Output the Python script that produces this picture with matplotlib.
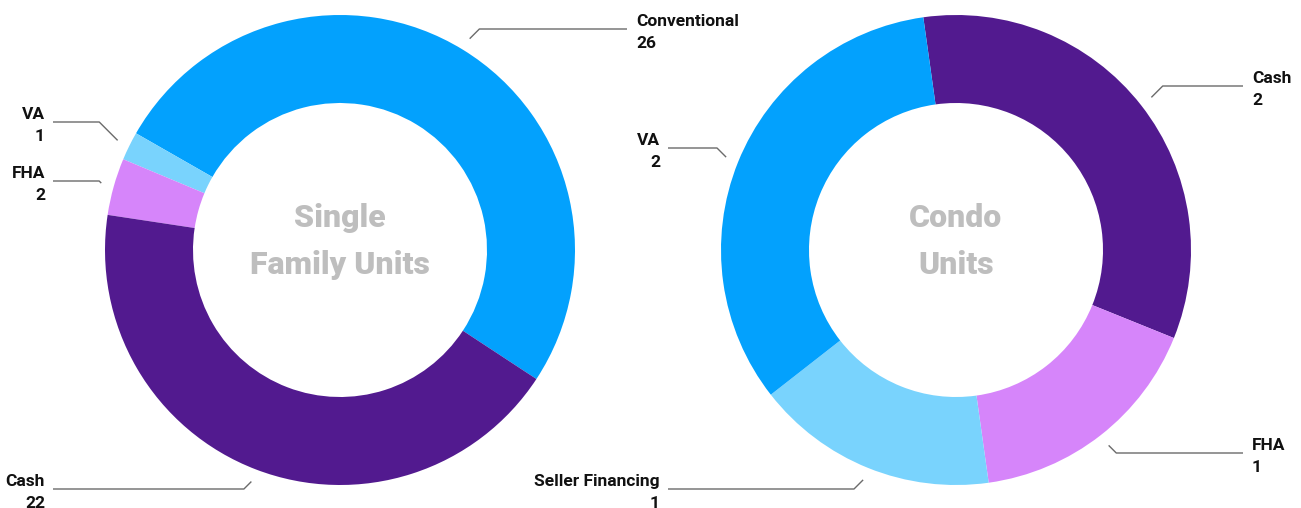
import numpy as np
import matplotlib
matplotlib.use("Agg")
import matplotlib.pyplot as plt

# data
sf_labels = ["Conventional", "VA", "FHA", "Cash"]
sf_values = [26, 1, 2, 22]
sf_colors = ["#03A1FD", "#79D3FD", "#D685FA", "#521A8F"]

condo_labels = ["Cash", "FHA", "Seller Financing", "VA"]
condo_values = [2, 1, 1, 2]
condo_colors = ["#521A8F", "#D685FA", "#79D3FD", "#03A1FD"]

W, H = 1301, 508
fig = plt.figure(figsize=(W / 100, H / 100), dpi=100)
ax = fig.add_axes([0, 0, 1, 1])

R = 235
RING = 88
LINE_C = "#6b6b6b"
TXT_C = "#111111"
FONT = ["Roboto", "DejaVu Sans"]


def py(y):
    # pixel row -> data y
    return H - y


def donut(cx, cy, values, colors, start, ccw):
    wedges, _ = ax.pie(values, colors=colors, startangle=start, counterclock=ccw,
                       radius=R, center=(cx, py(cy)),
                       wedgeprops=dict(width=RING, linewidth=0))
    return wedges


def leader(w, cx, cy, line_y, text_x, name, val):
    ang = np.deg2rad((w.theta1 + w.theta2) / 2)
    sx = cx + 1.055 * R * np.cos(ang)
    sy = py(cy) + 1.055 * R * np.sin(ang)
    ly = py(line_y)
    d = abs(ly - sy)
    right = text_x > cx
    ex = sx + d if right else sx - d
    end_x = text_x - 9 if right else text_x + 8
    ax.plot([sx, ex, end_x], [sy, ly, ly], color=LINE_C, lw=1.0,
            solid_capstyle="butt")
    ha = "left" if right else "right"
    ax.text(text_x, ly + 3, name, ha=ha, va="baseline", fontsize=12.5,
            fontweight="bold", color=TXT_C, family=FONT)
    ax.text(text_x, ly - 19, str(val), ha=ha, va="baseline", fontsize=12.5,
            fontweight="bold", color=TXT_C, family=FONT)


# single family
lcx, lcy = 340, 250
w1 = donut(lcx, lcy, sf_values, sf_colors, -33.3, True)
sf_line_y = [29, 122, 181, 489]
sf_text_x = [636, 45, 45, 45]
for w, lab, v, ly, tx in zip(w1, sf_labels, sf_values, sf_line_y, sf_text_x):
    leader(w, lcx, lcy, ly, tx, lab, v)

# condo
rcx, rcy = 956, 250
w2 = donut(rcx, rcy, condo_values, condo_colors, 98, False)
condo_line_y = [86, 453, 489, 148]
condo_text_x = [1252, 1252, 660, 660]
for w, lab, v, ly, tx in zip(w2, condo_labels, condo_values, condo_line_y, condo_text_x):
    leader(w, rcx, rcy, ly, tx, lab, v)

for cx, top, bottom in [(lcx, "Single", "Family Units"), (rcx, "Condo", "Units")]:
    ax.text(cx, py(227), top, ha="center", va="baseline", fontsize=23,
            fontweight="black", color="#BEBEBE", family=FONT)
    ax.text(cx, py(274), bottom, ha="center", va="baseline", fontsize=23,
            fontweight="black", color="#BEBEBE", family=FONT)

ax.set_xlim(0, W)
ax.set_ylim(0, H)
ax.set_aspect("equal")
ax.axis("off")

fig.savefig("out.png", dpi=100, facecolor="white")
